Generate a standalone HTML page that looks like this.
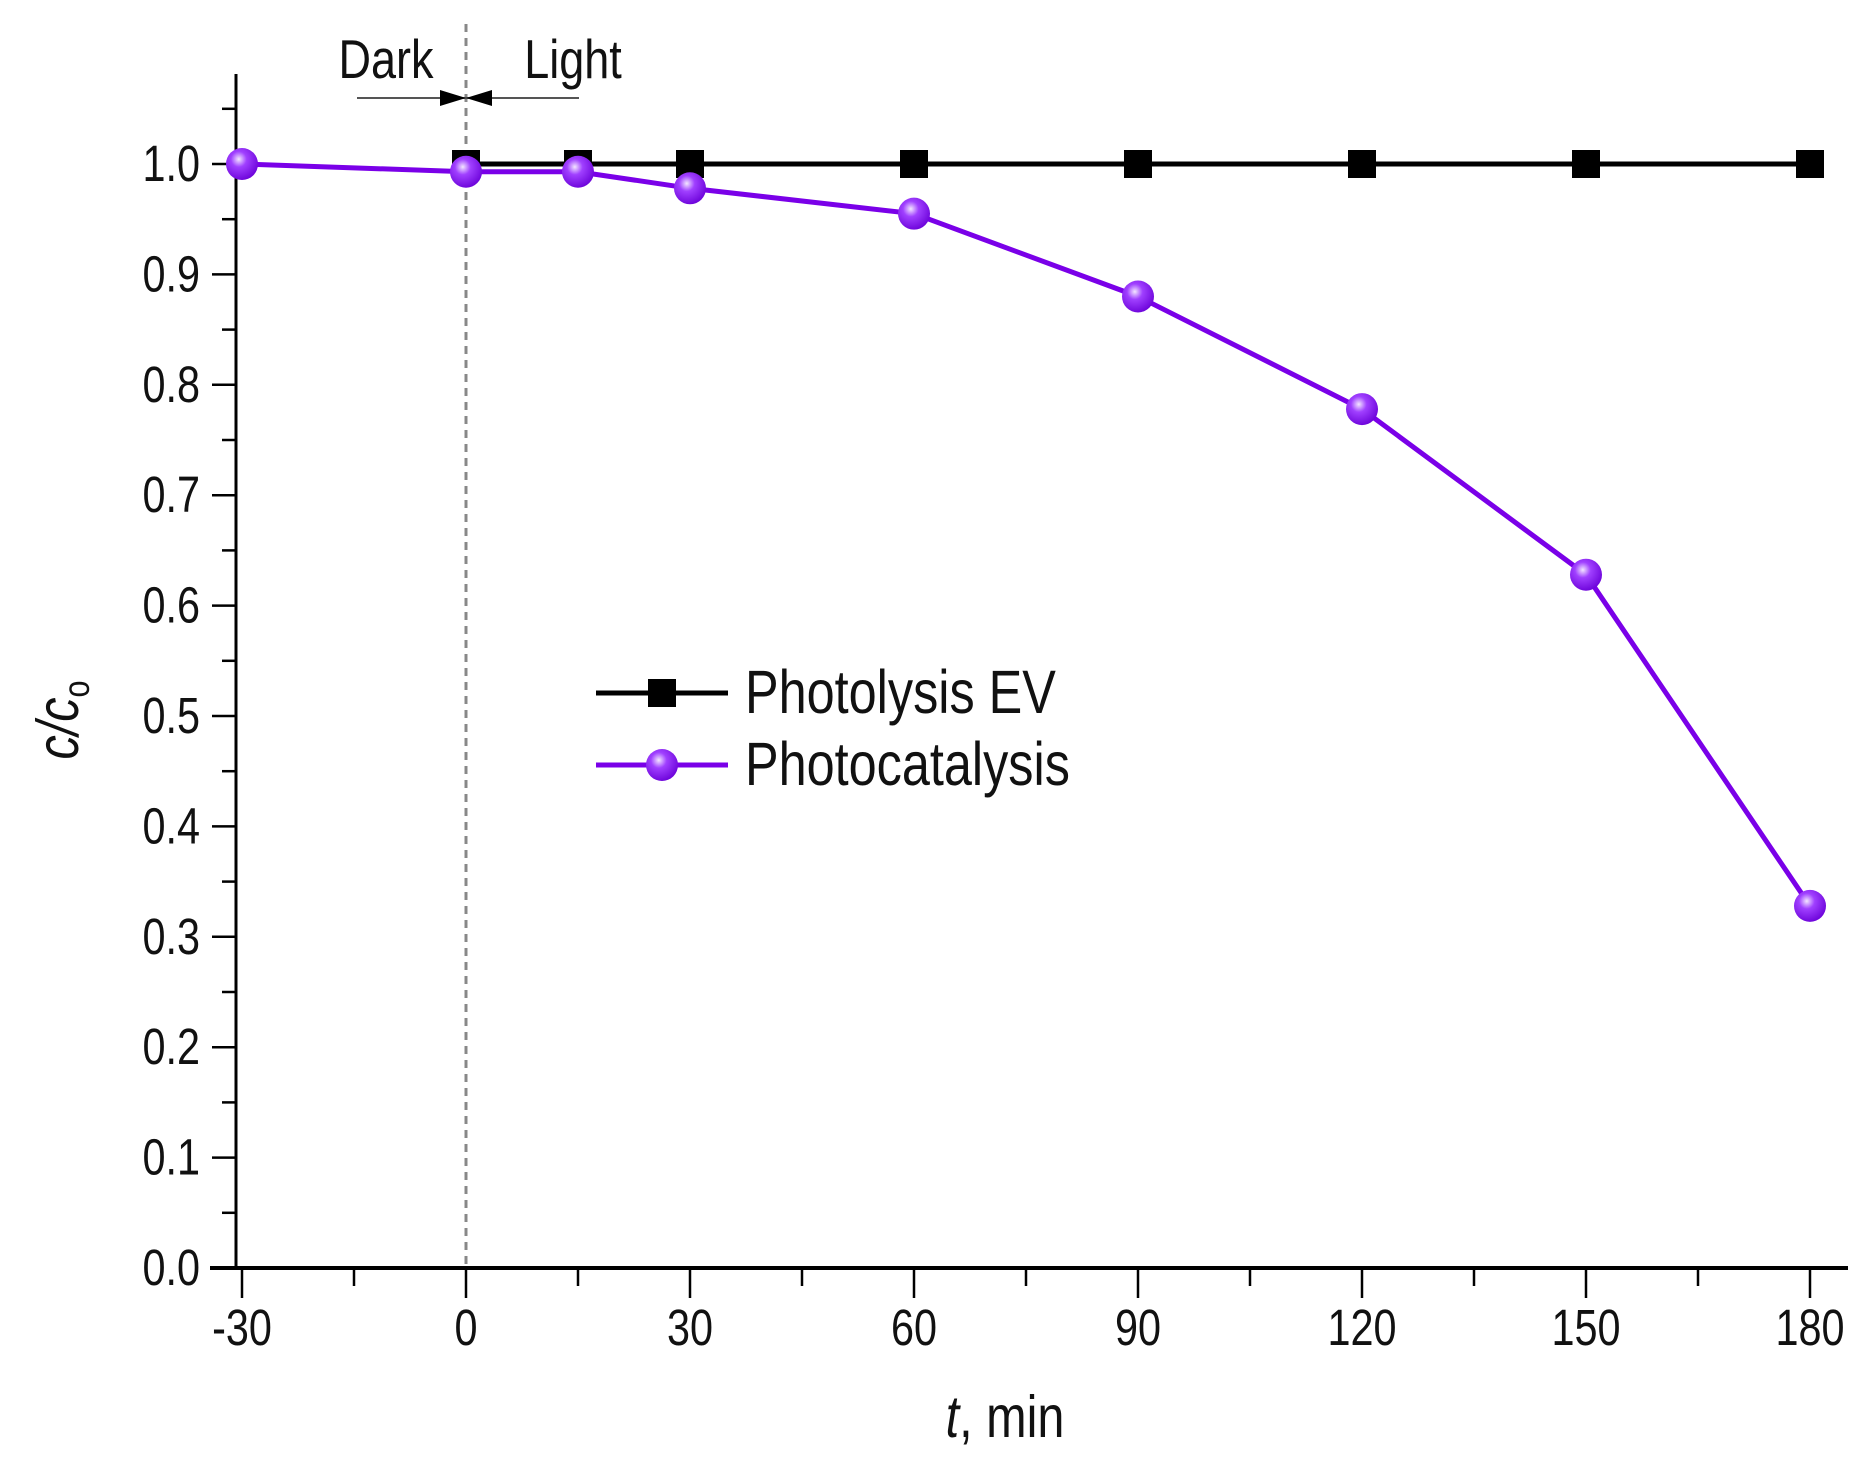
<!DOCTYPE html>
<html><head><meta charset="utf-8"><style>
html,body{margin:0;padding:0;background:#fff;}
svg{display:block;font-family:"Liberation Sans",sans-serif;}
</style></head><body>
<svg id="chart" width="1870" height="1465" viewBox="0 0 1870 1465">
<defs>
<radialGradient id="sph" cx="0.4" cy="0.35" r="0.7">
<stop offset="0" stop-color="#f3e6ff"/><stop offset="0.35" stop-color="#a040ff"/><stop offset="1" stop-color="#6a00d8"/>
</radialGradient>
</defs>
<g id="axes"></g>
<g id="series"></g>
</svg>
<script>
const xTicks=[-30,0,30,60,90,120,150,180];
const yTicks=[0,0.1,0.2,0.3,0.4,0.5,0.6,0.7,0.8,0.9,1.0];
const photolysisX=[0,15,30,60,90,120,150,180];
const photolysisY=[1,1,1,1,1,1,1,1];
const catalysisX=[-30,0,15,30,60,90,120,150,180];
const catalysisY=[1.0,0.993,0.993,0.978,0.955,0.880,0.778,0.628,0.328];

const NS="http://www.w3.org/2000/svg";
const X=v=>242+(v+30)*(1810-242)/210;
const Y=v=>1268-v*(1268-164);
function mk(tag,attrs,parent,text){const e=document.createElementNS(NS,tag);for(const k in attrs)e.setAttribute(k,attrs[k]);if(text!==undefined)e.textContent=text;parent.appendChild(e);return e;}
const ax=document.getElementById('axes'), se=document.getElementById('series');
const NARROW='scale(0.9,1.1)';
function ntext(x,y,size,anchor,txt,parent){
  const g=mk('g',{transform:`translate(${x},${y}) ${NARROW}`},parent);
  return mk('text',{x:0,y:0,'font-size':size,'text-anchor':anchor,fill:'#111'},g,txt);
}

let d=mk('line',{x1:X(0),y1:24,x2:X(0),y2:1268,stroke:'#888','stroke-width':3,'stroke-dasharray':'8,6'},ax);



let xa=mk('line',{x1:210,y1:1268,x2:1848,y2:1268,stroke:'#000','stroke-width':4},ax);


let ya=mk('line',{x1:236,y1:74,x2:236,y2:1270,stroke:'#000','stroke-width':3},ax);



for(let v=-30;v<=180;v+=15){
  const maj=(v%30===0);
  mk('line',{x1:X(v),y1:1268,x2:X(v),y2:1268+(maj?30:18),stroke:'#000','stroke-width':2.5},ax);
}
xTicks.forEach(v=>{
  const t=ntext(X(v),1345,46,'middle',String(v),ax);
  
  
});
for(let i=0;i<=21;i++){
  const v=i*0.05, maj=(i%2===0);
  mk('line',{x1:236-(maj?24:14),y1:Y(v),x2:236,y2:Y(v),stroke:'#000','stroke-width':2.5},ax);
}
yTicks.forEach(v=>{
  const t=ntext(200,Y(v)+17,46,'end',v.toFixed(1),ax);
  
  
});

let xg=mk('g',{transform:`translate(1005,1437) ${NARROW}`},ax);
let xt=mk('text',{x:0,y:0,'font-size':54,'text-anchor':'middle',fill:'#111'},xg);


mk('tspan',{'font-style':'italic'},xt,'t');mk('tspan',{},xt,', min');

let yt=mk('text',{transform:'translate(78,720) rotate(-90) scale(0.9,1.1)','font-size':54,'text-anchor':'middle',fill:'#111'},ax);


mk('tspan',{'font-style':'italic'},yt,'c/c');mk('tspan',{'font-size':34,dy:10},yt,'o');

let dk=ntext(386,78,50,'middle','Dark',ax);


let lt=ntext(573,78,50,'middle','Light',ax);


mk('line',{x1:357,y1:98,x2:579,y2:98,stroke:'#555','stroke-width':2},ax);
mk('polygon',{points:`${X(0)},98 ${X(0)-26},90 ${X(0)-26},106`,fill:'#000'},ax);
mk('polygon',{points:`${X(0)},98 ${X(0)+26},90 ${X(0)+26},106`,fill:'#000'},ax);

let pl=mk('polyline',{points:photolysisX.map((x,i)=>X(x)+','+Y(photolysisY[i])).join(' '),fill:'none',stroke:'#000','stroke-width':5},se);


photolysisX.forEach((x,i)=>{
  const r=mk('rect',{x:X(x)-14,y:Y(photolysisY[i])-14,width:28,height:28,fill:'#000'},se);
  
  
});
let cl=mk('polyline',{points:catalysisX.map((x,i)=>X(x)+','+Y(catalysisY[i])).join(' '),fill:'none',stroke:'#7a00e8','stroke-width':5},se);


catalysisX.forEach((x,i)=>{
  const c=mk('circle',{cx:X(x),cy:Y(catalysisY[i]),r:16,fill:'url(#sph)'},se);
  
  
});

const lg=mk('g',{},se);


mk('line',{x1:596,y1:693,x2:728,y2:693,stroke:'#000','stroke-width':5},lg);
mk('rect',{x:648,y:679,width:28,height:28,fill:'#000'},lg);
let l1=ntext(745,713,56,'start','Photolysis EV',lg);


mk('line',{x1:596,y1:765,x2:728,y2:765,stroke:'#7a00e8','stroke-width':5},lg);
mk('circle',{cx:662,cy:765,r:16,fill:'url(#sph)'},lg);
let l2=ntext(745,785,56,'start','Photocatalysis',lg);


</script>
</body></html>
